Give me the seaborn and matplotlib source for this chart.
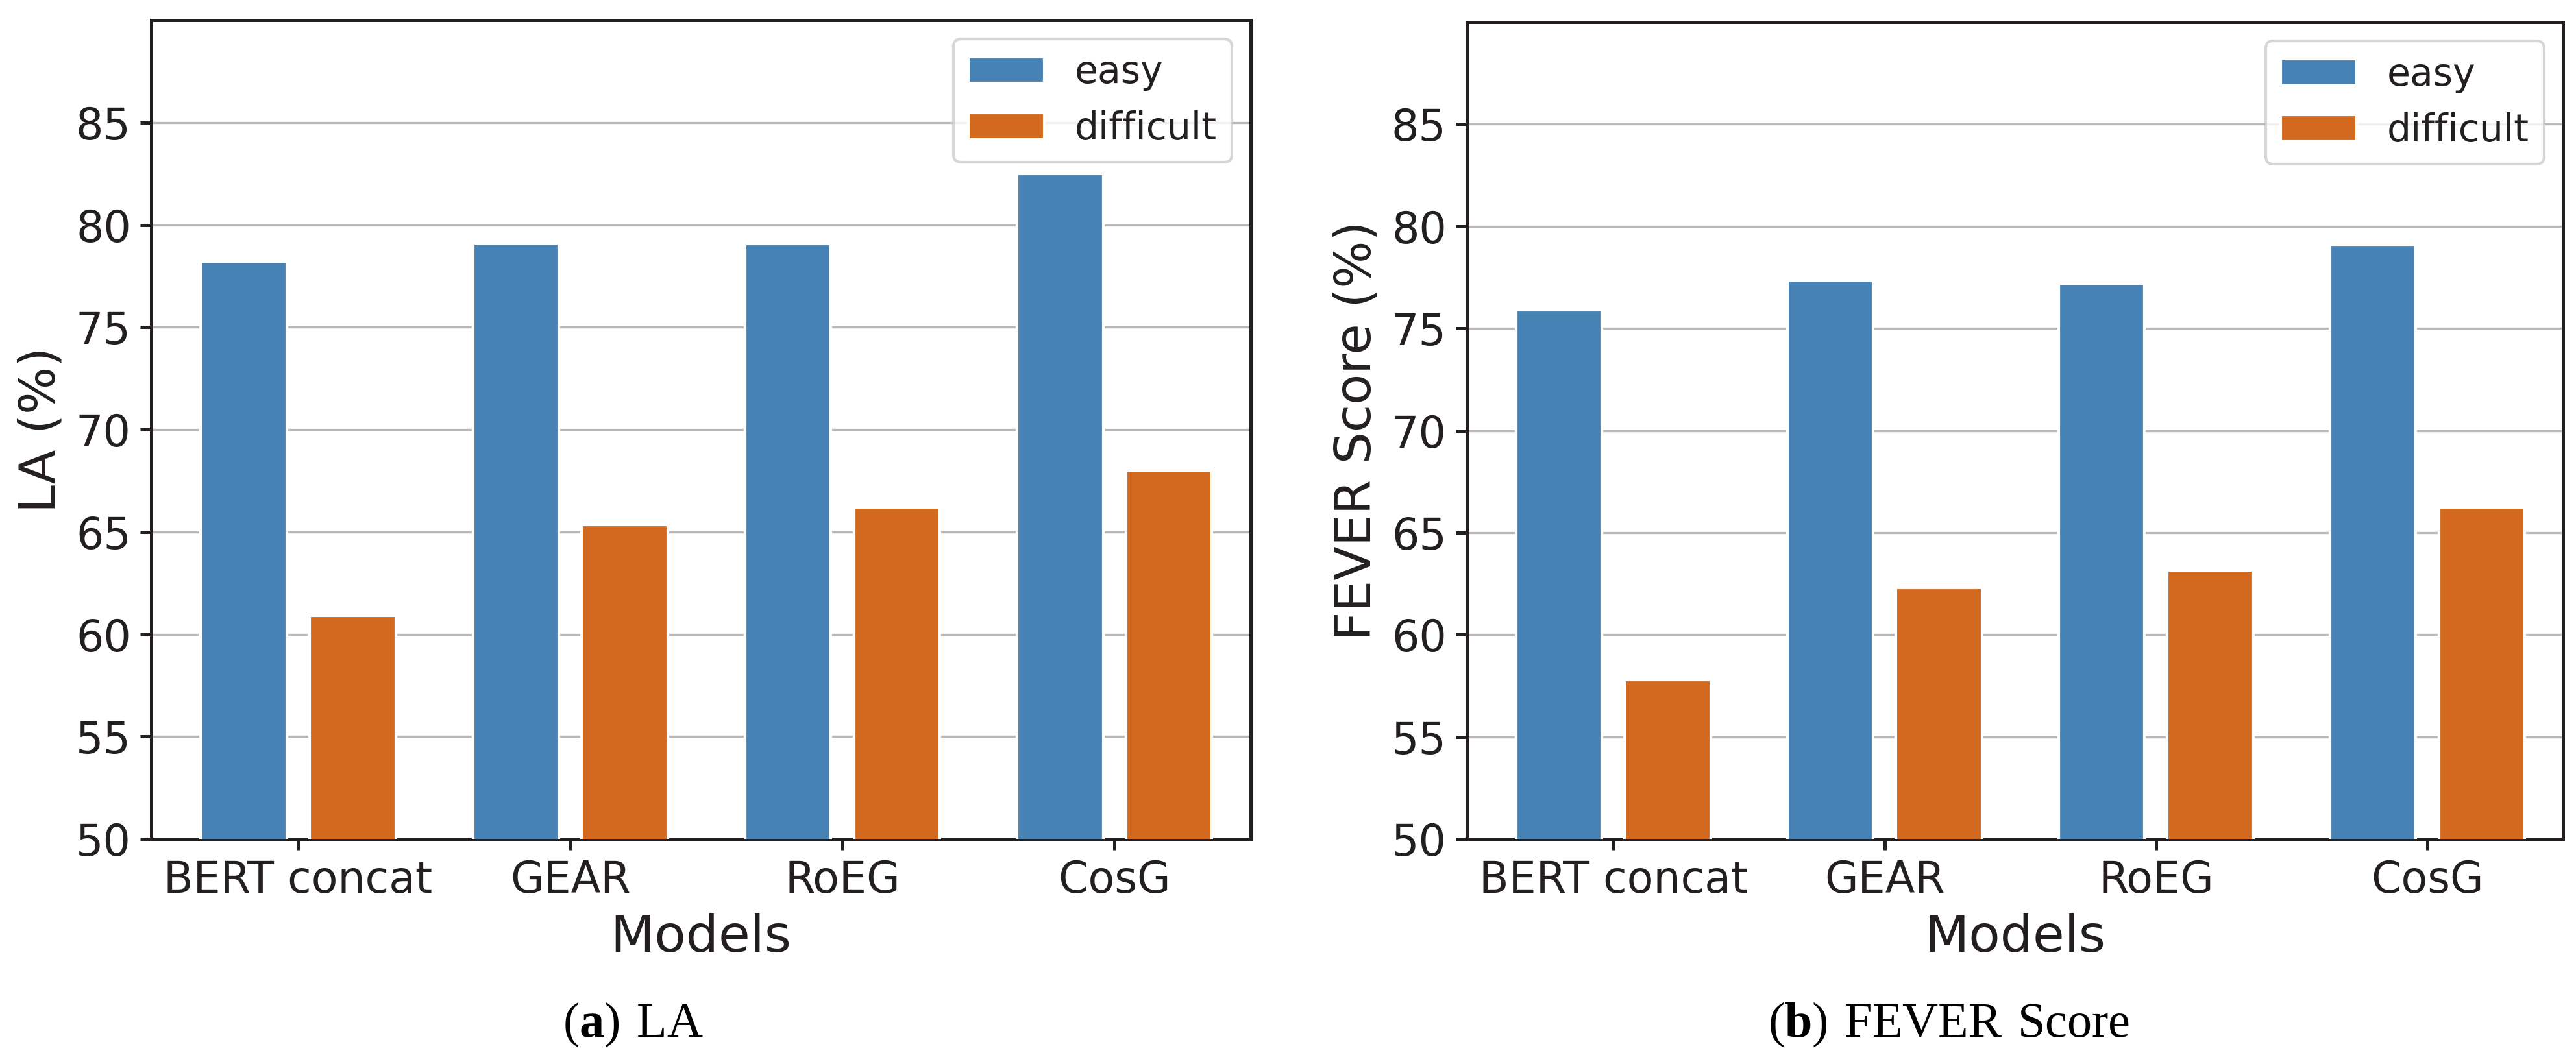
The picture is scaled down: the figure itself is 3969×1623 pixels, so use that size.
import matplotlib
matplotlib.use("Agg")
import matplotlib.pyplot as plt
import pandas as pd
import seaborn as sns

# Data
models = ["BERT concat", "GEAR", "RoEG", "CosG"]
levels = ["easy", "difficult"]
la_easy = [78.2, 79.1, 79.05, 82.5]
la_difficult = [60.9, 65.35, 66.2, 68.0]
fever_easy = [75.9, 77.35, 77.2, 79.1]
fever_difficult = [57.8, 62.3, 63.15, 66.25]
y_ticks = [50, 55, 60, 65, 70, 75, 80, 85]

colors = ["#4682B4", "#D2691E"]
spine_col = "#231f20"

sns.set_style("ticks")
plt.rcParams['font.family'] = ['DejaVu Sans']
plt.rcParams['mathtext.fontset'] = 'custom'
plt.rcParams['mathtext.rm'] = 'Liberation Serif'
plt.rcParams['mathtext.bf'] = 'Liberation Serif:bold'
plt.rcParams['text.color'] = spine_col


def make_df(easy, difficult):
    return pd.DataFrame({
        "Models": models * 2,
        "value": easy + difficult,
        "level": [levels[0]] * len(models) + [levels[1]] * len(models),
    })


fig = plt.figure(figsize=(3970 / 300, 1623 / 300), dpi=300)
ax1 = fig.add_axes([0.0587, 0.2033, 0.4267, 0.7776])
ax2 = fig.add_axes([0.5693, 0.2033, 0.4254, 0.7757])

panels = [
    (ax1, make_df(la_easy, la_difficult), "LA (%)", r"$(\mathbf{a})\ \mathrm{LA}$", 0.2458),
    (ax2, make_df(fever_easy, fever_difficult), "FEVER Score (%)",
     r"$(\mathbf{b})\ \mathrm{FEVER\ Score}$", 0.7564),
]

for ax, df, ylab, cap, cx in panels:
    sns.barplot(data=df, x="Models", y="value", hue="level", palette=colors,
                saturation=1, gap=0.21, errorbar=None, ax=ax, zorder=3)
    ax.set_ylim(50, 90)
    ax.set_yticks(y_ticks)
    ax.set_xlim(-0.54, 3.5)
    ax.yaxis.grid(True, color="#b8b8b8", linewidth=0.8, zorder=0)
    ax.set_axisbelow(True)
    for s in ax.spines.values():
        s.set_visible(True)
        s.set_color(spine_col)
        s.set_linewidth(1.2)
    ax.tick_params(axis="both", labelsize=16, width=1.2, length=4,
                   color=spine_col, labelcolor=spine_col)
    ax.set_xlabel("Models", fontsize=19, color=spine_col)
    ax.set_ylabel(ylab, fontsize=18.5, color=spine_col)
    handles, labels = ax.get_legend_handles_labels()
    ax.legend(handles, labels, loc="upper right", fontsize=14, title=None)
    fig.text(cx, 0.027, cap, fontsize=18.3, ha="center", va="center", color="black")

fig.savefig("out.png", dpi=300)
